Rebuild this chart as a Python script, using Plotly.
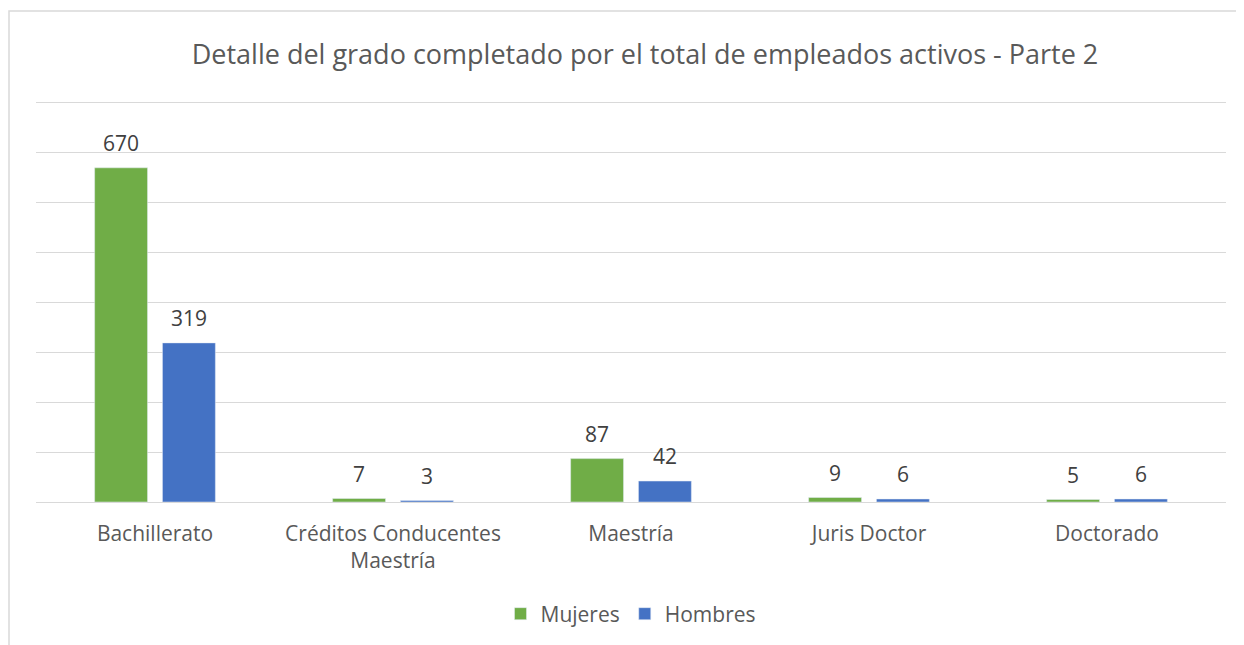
import plotly.graph_objects as go

# Chart data
categorias = ["Bachillerato", "Créditos Conducentes<br>Maestría", "Maestría", "Juris Doctor", "Doctorado"]
mujeres = [670, 7, 87, 9, 5]
hombres = [319, 3, 42, 6, 6]

W, H = 1244, 645
OFF = 8  # page body margin offsets the figure
Y_TOP = 820  # a bit above 800 so the 800 gridline is drawn
# plot area in screen pixels (y = 800 at 103, y = 0 at 502)
PX0, PX1, PY1 = 36, 1226, 502
px_per_unit = (502 - 103) / 800
PY0 = PY1 - Y_TOP * px_per_unit
L, T = PX0 - OFF, PY0 - OFF
R, B = W - (PX1 - OFF), H - (PY1 - OFF)
plot_h = PY1 - PY0
plot_w = PX1 - PX0

fig = go.Figure()
fig.add_trace(go.Bar(x=categorias, y=mujeres, name="Mujeres", marker=dict(color="#70AD47")))
fig.add_trace(go.Bar(x=categorias, y=hombres, name="Hombres", marker=dict(color="#4472C4")))

# data labels above each bar (green left, blue right within the group)
for vals, dx in ((mujeres, -34), (hombres, 34)):
    for cat, v in zip(categorias, vals):
        fig.add_annotation(
            x=cat, y=v, xref="x", yref="y", text=str(v), showarrow=False,
            xshift=dx, yshift=9, yanchor="bottom",
            font=dict(size=21, color="#404040"),
        )

fig.update_layout(
    width=W, height=H,
    font=dict(family="Open Sans, sans-serif", color="#595959", size=21),
    title=dict(
        text="Detalle del grado completado por el total de empleados activos - Parte 2",
        x=(645 - OFF) / W, xanchor="center", xref="container",
        y=1 - (55 - OFF) / H, yanchor="middle", yref="container",
        font=dict(size=27, color="#595959"),
    ),
    barmode="group", bargap=0.43, bargroupgap=0.22,
    plot_bgcolor="#ffffff", paper_bgcolor="#ffffff",
    margin=dict(l=L, r=R, t=T, b=B),
    legend=dict(
        orientation="h", x=0.5, xanchor="center",
        y=(PY1 - 614) / plot_h, yanchor="middle",
        font=dict(size=21, color="#595959"),
        itemwidth=30,
    ),
)

fig.update_yaxes(
    range=[0, Y_TOP], dtick=100, showticklabels=False,
    showgrid=True, gridcolor="#D9D9D9", gridwidth=1.3,
    zeroline=True, zerolinecolor="#D9D9D9", zerolinewidth=1.3,
)
fig.update_xaxes(
    showline=False, ticks="", ticklabelstandoff=17,
    tickfont=dict(size=21, color="#595959"),
)

# Outer chart border (cropped at right and bottom)
fig.add_shape(
    type="rect", xref="paper", yref="paper",
    x0=(OFF + 1 - PX0) / plot_w, x1=(W + 30 - PX0) / plot_w,
    y0=(PY1 - (H + 30)) / plot_h, y1=(PY1 - 11) / plot_h,
    line=dict(color="#D9D9D9", width=1.5), fillcolor="rgba(0,0,0,0)",
    layer="below",
)

fig.write_html("out.html")
